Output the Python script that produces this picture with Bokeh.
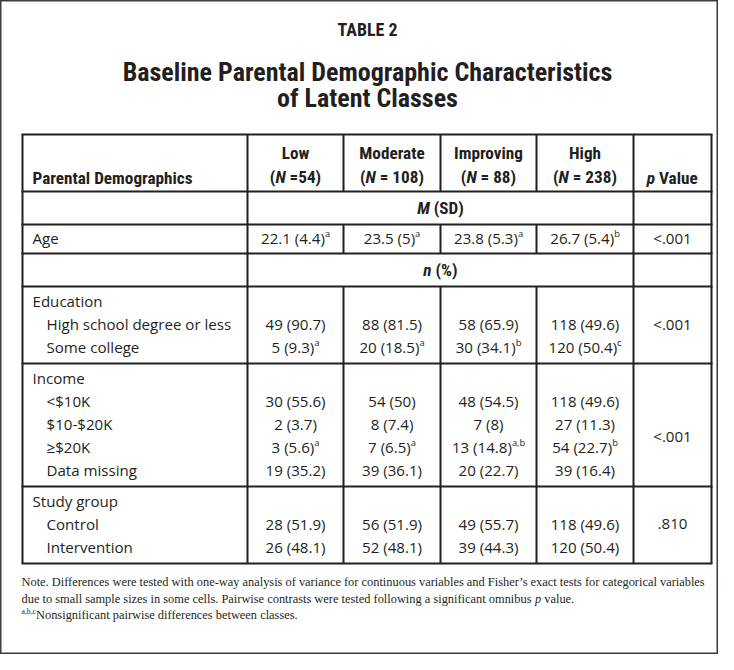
import os
import glob
import struct
from bokeh.plotting import figure
from bokeh.models import Range1d, ColumnDataSource
from bokeh.embed import file_html
from bokeh.resources import INLINE

# ---------------- data ----------------
table_label = "TABLE 2"
title_lines = ["Baseline Parental Demographic Characteristics", "of Latent Classes"]
row_header = "Parental Demographics"
classes = ["Low", "Moderate", "Improving", "High"]
class_n_labels = [" =54)", " = 108)", " = 88)", " = 238)"]
pvalue_header = " Value"

age_label = "Age"
age_mean = [22.1, 23.5, 23.8, 26.7]
age_sd = [4.4, 5, 5.3, 5.4]
age_sup = ["a", "a", "a", "b"]
age_p = "<.001"

edu_title = "Education"
edu_labels = ["High school degree or less", "Some college"]
edu_n = [[49, 88, 58, 118], [5, 20, 30, 120]]
edu_pct = [[90.7, 81.5, 65.9, 49.6], [9.3, 18.5, 34.1, 50.4]]
edu_sup = [["", "", "", ""], ["a", "a", "b", "c"]]
edu_p = "<.001"

inc_title = "Income"
inc_labels = ["<$10K", "$10-$20K", "\u2265$20K", "Data missing"]
inc_n = [[30, 54, 48, 118], [2, 8, 7, 27], [3, 7, 13, 54], [19, 39, 20, 39]]
inc_pct = [[55.6, 50, 54.5, 49.6], [3.7, 7.4, 8, 11.3], [5.6, 6.5, 14.8, 22.7], [35.2, 36.1, 22.7, 16.4]]
inc_sup = [["", "", "", ""], ["", "", "", ""], ["a", "a", "a,b", "b"], ["", "", "", ""]]
inc_p = "<.001"

grp_title = "Study group"
grp_labels = ["Control", "Intervention"]
grp_n = [[28, 56, 49, 118], [26, 52, 39, 120]]
grp_pct = [[51.9, 51.9, 55.7, 49.6], [48.1, 48.1, 44.3, 50.4]]
grp_sup = [["", "", "", ""], ["", "", "", ""]]
grp_p = ".810"

note_line1 = ("Note. Differences were tested with one-way analysis of variance for continuous variables "
              "and Fisher\u2019s exact tests for categorical variables")
note_line2a = "due to small sample sizes in some cells. Pairwise contrasts were tested following a significant omnibus "
note_line2b = "p"
note_line2c = " value."
note_sup = "a,b,c"
note_line3 = "Nonsignificant pairwise differences between classes."

# ---------------- font metrics (for laying out mixed-style runs) ----------------
ROOTS = ["/usr/share/fonts", "/usr/local/share/fonts",
         os.path.expanduser("~/.fonts"), os.path.expanduser("~/.local/share/fonts")]


def find_font(patterns):
    for pat in patterns:
        for r in ROOTS:
            hits = sorted(glob.glob(os.path.join(r, "**", pat), recursive=True))
            if hits:
                return hits[0]
    return None


class Metrics:
    def __init__(self, path, fallback_em=0.5):
        self.ok = False
        self.fallback_em = fallback_em
        self.path = path
        if not path:
            return
        try:
            data = open(path, "rb").read()
            base = 0
            if data[:4] == b"ttcf":
                base = struct.unpack(">I", data[12:16])[0]
            num = struct.unpack(">H", data[base + 4:base + 6])[0]
            tables = {}
            for i in range(num):
                tag, cs, off, ln = struct.unpack(">4sIII", data[base + 12 + 16 * i: base + 28 + 16 * i])
                tables[tag] = off
            head = tables[b"head"]
            self.upem = struct.unpack(">H", data[head + 18:head + 20])[0]
            hhea = tables[b"hhea"]
            nh = struct.unpack(">H", data[hhea + 34:hhea + 36])[0]
            hm = tables[b"hmtx"]
            self.adv = [struct.unpack(">H", data[hm + 4 * i:hm + 4 * i + 2])[0] for i in range(nh)]
            cmap = tables[b"cmap"]
            n = struct.unpack(">H", data[cmap + 2:cmap + 4])[0]
            sub4 = None
            for i in range(n):
                pid, eid, off = struct.unpack(">HHI", data[cmap + 4 + 8 * i: cmap + 12 + 8 * i])
                fmt = struct.unpack(">H", data[cmap + off:cmap + off + 2])[0]
                if fmt == 4 and pid in (0, 3):
                    sub4 = cmap + off
                    break
            o = sub4
            segx2 = struct.unpack(">H", data[o + 6:o + 8])[0]
            seg = segx2 // 2
            self.ends = struct.unpack(">%dH" % seg, data[o + 14:o + 14 + segx2])
            self.starts = struct.unpack(">%dH" % seg, data[o + 16 + segx2:o + 16 + 2 * segx2])
            self.deltas = struct.unpack(">%dh" % seg, data[o + 16 + 2 * segx2:o + 16 + 3 * segx2])
            self.ro_pos = o + 16 + 3 * segx2
            self.ros = struct.unpack(">%dH" % seg, data[self.ro_pos:self.ro_pos + segx2])
            self.data = data
            self.ok = True
        except Exception:
            self.ok = False

    def gid(self, ch):
        c = ord(ch)
        for i in range(len(self.ends)):
            if c <= self.ends[i]:
                if c < self.starts[i]:
                    return 0
                if self.ros[i] == 0:
                    return (c + self.deltas[i]) & 0xFFFF
                addr = self.ro_pos + 2 * i + self.ros[i] + 2 * (c - self.starts[i])
                g = struct.unpack(">H", self.data[addr:addr + 2])[0]
                return (g + self.deltas[i]) & 0xFFFF if g else 0
        return 0

    def width(self, s, size):
        if not self.ok:
            return len(s) * self.fallback_em * size
        tot = 0
        for ch in s:
            g = self.gid(ch)
            tot += self.adv[g] if g < len(self.adv) else self.adv[-1]
        return tot * size / self.upem


# condensed bold family for headings, first one available
CANDIDATES = [
    ("Roboto Condensed", ["RobotoCondensed-Bold.ttf"], ["RobotoCondensed-BoldItalic.ttf"]),
    ("Liberation Sans Narrow", ["LiberationSansNarrow-Bold.ttf"], ["LiberationSansNarrow-BoldItalic.ttf"]),
    ("DejaVu Sans Condensed", ["DejaVuSansCondensed-Bold.ttf"], ["DejaVuSansCondensed-BoldOblique.ttf"]),
]
NARROW, narrow_bold_path, narrow_bi_path = "DejaVu Sans Condensed", None, None
for fam, pb, pbi in CANDIDATES:
    fb = find_font(pb)
    if fb:
        NARROW, narrow_bold_path, narrow_bi_path = fam, fb, find_font(pbi) or fb
        break

BODY = "Open Sans"
body_path = find_font(["OpenSans-Regular.ttf", "OpenSans*wght*.ttf", "OpenSans*.ttf"])
SERIF = "Liberation Serif"
serif_path = find_font(["LiberationSerif-Regular.ttf"])
serif_it_path = find_font(["LiberationSerif-Italic.ttf"])

MET = {
    (NARROW, "bold"): Metrics(narrow_bold_path, 0.5),
    (NARROW, "bold italic"): Metrics(narrow_bi_path, 0.5),
    (BODY, "normal"): Metrics(body_path, 0.55),
    (SERIF, "normal"): Metrics(serif_path, 0.45),
    (SERIF, "italic"): Metrics(serif_it_path, 0.45),
}


def W(fam, style, s, size):
    return MET[(fam, style)].width(s, size)


def fit(fam, style, s, target, lo, hi):
    w1 = W(fam, style, s, 1.0)
    v = target / w1 if w1 > 0 else (lo + hi) / 2
    return round(max(lo, min(hi, v)), 1)


# ---------------- layout constants ----------------
INK = "#231f20"
X_EDGES = [22, 247, 343, 440, 536, 633, 711]
Y_TOP, Y_HEAD, Y_MSD, Y_AGE, Y_NPCT = 134, 191, 224, 253, 286
FIRST, STEP, LAST = 16, 23, 15
LABEL_X, SUB_X = 32, 46
NOTE_X = 21
MID = {BODY: -1.3, NARROW: 0.3, SERIF: -0.5}

size_title = fit(NARROW, "bold", title_lines[0], 520, 18, 26)
size_tab = fit(NARROW, "bold", table_label, 61, 11, 18)
size_head = fit(NARROW, "bold", row_header, 161, 12, 19)
size_body = fit(BODY, "normal", edu_labels[0], 185, 12, 17)
size_sup = round(size_body * 0.62, 1)
size_note = fit(SERIF, "normal", note_line1, 685, 10, 13)
size_nsup = round(size_note * 0.62, 1)

cols = dict(x=[], y=[], text=[], font=[], size=[], style=[], align=[])


def put(x, y, t, fam, size, style="normal", align="left"):
    cols["x"].append(x)
    cols["y"].append(y + MID.get(fam, 0))
    cols["text"].append(t)
    cols["font"].append(fam)
    cols["size"].append("%.1fpx" % size)
    cols["style"].append(style)
    cols["align"].append(align)


def run(x, y, parts, align="left"):
    """parts: list of (text, fam, size, style, dy); laid out side by side."""
    ws = [W(f, st, t, sz) for (t, f, sz, st, dy) in parts]
    start = x - sum(ws) / 2.0 if align == "center" else x
    t, f, sz, st, dy = parts[0]
    if align == "center":
        put(start + ws[0], y + dy, t.rstrip(" "), f, sz, st, "right")
    else:
        put(start, y + dy, t, f, sz, st, "left")
    cur = start + ws[0]
    for (t, f, sz, st, dy), w in zip(parts[1:], ws[1:]):
        lead = len(t) - len(t.lstrip(" "))
        put(cur + W(f, st, " " * lead, sz), y + dy, t.lstrip(" "), f, sz, st, "left")
        cur += w


def cell(cx, y, main, sup):
    if sup:
        run(cx, y, [(main, BODY, size_body, "normal", 0),
                    (sup, BODY, size_sup, "normal", -4.5)], "center")
    else:
        put(cx, y, main, BODY, size_body, "normal", "center")


col_cx = [(X_EDGES[i] + X_EDGES[i + 1]) / 2.0 for i in range(len(X_EDGES) - 1)]
class_cx = col_cx[1:5]
p_cx = col_cx[5]

# titles
put(367, 29, table_label, NARROW, size_tab, "bold", "center")
put(367, 71, title_lines[0], NARROW, size_title, "bold", "center")
put(367, 97, title_lines[1], NARROW, size_title, "bold", "center")

# header
put(LABEL_X, 177, row_header, NARROW, size_head, "bold", "left")
for cx, name, nl in zip(class_cx, classes, class_n_labels):
    put(cx, 152, name, NARROW, size_head, "bold", "center")
    run(cx, 176.5, [("(", NARROW, size_head, "bold", 0),
                    ("N", NARROW, size_head, "bold italic", 0),
                    (nl, NARROW, size_head, "bold", 0)], "center")
run(p_cx, 177, [("p", NARROW, size_head, "bold italic", 0),
                (pvalue_header, NARROW, size_head, "bold", 0)], "center")

span_cx = (X_EDGES[1] + X_EDGES[5]) / 2.0
run(span_cx, (Y_HEAD + Y_MSD) / 2.0, [("M", NARROW, size_head, "bold italic", 0),
                                      (" (SD)", NARROW, size_head, "bold", 0)], "center")
run(span_cx, (Y_AGE + Y_NPCT) / 2.0, [("n", NARROW, size_head, "bold italic", 0),
                                      (" (%)", NARROW, size_head, "bold", 0)], "center")

# age row
y_age = (Y_MSD + Y_AGE) / 2.0 + 0.5
put(LABEL_X, y_age, age_label, BODY, size_body)
for cx, m, s, sp in zip(class_cx, age_mean, age_sd, age_sup):
    cell(cx, y_age, "%g (%g)" % (m, s), sp)
put(p_cx, y_age, age_p, BODY, size_body, "normal", "center")

# categorical blocks
blocks = [
    (edu_title, edu_labels, edu_n, edu_pct, edu_sup, edu_p, 1.0),
    (inc_title, inc_labels, inc_n, inc_pct, inc_sup, inc_p, 2.5),
    (grp_title, grp_labels, grp_n, grp_pct, grp_sup, grp_p, 1.0),
]
h_lines = [Y_TOP, Y_HEAD, Y_MSD, Y_AGE, Y_NPCT]
y0 = Y_NPCT
for title, labels, ns, pcts, sups, pv, ppos in blocks:
    yt = y0 + FIRST
    put(LABEL_X, yt, title, BODY, size_body)
    for k, lab in enumerate(labels):
        yy = yt + STEP * (k + 1)
        put(SUB_X, yy, lab, BODY, size_body)
        for cx, n, pc, sp in zip(class_cx, ns[k], pcts[k], sups[k]):
            cell(cx, yy, "%d (%g)" % (n, pc), sp)
    put(p_cx, yt + STEP * ppos, pv, BODY, size_body, "normal", "center")
    y1 = yt + STEP * len(labels) + LAST
    h_lines.append(y1)
    y0 = y1
Y_BOT = y0

# notes
put(NOTE_X, 582, note_line1, SERIF, size_note)
run(NOTE_X, 598.5, [(note_line2a, SERIF, size_note, "normal", 0),
                    (note_line2b, SERIF, size_note, "italic", 0),
                    (note_line2c, SERIF, size_note, "normal", 0)], "left")
run(NOTE_X, 615, [(note_sup, SERIF, size_nsup, "normal", -3.5),
                  (note_line3, SERIF, size_note, "normal", 0)], "left")

# grid lines
sx0, sy0, sx1, sy1 = [], [], [], []
for yy in h_lines:
    sx0.append(X_EDGES[0] - 1); sx1.append(X_EDGES[-1] + 1); sy0.append(yy); sy1.append(yy)
for i, xx in enumerate(X_EDGES):
    if i in (0, 1, 5, 6):
        sx0.append(xx); sx1.append(xx); sy0.append(Y_TOP); sy1.append(Y_BOT)
    else:
        for a, b in [(Y_TOP, Y_HEAD), (Y_MSD, Y_AGE), (Y_NPCT, Y_BOT)]:
            sx0.append(xx); sx1.append(xx); sy0.append(a); sy1.append(b)

p = figure(width=718, height=654, x_range=Range1d(0, 718), y_range=Range1d(654, 0),
           output_backend="svg", toolbar_location=None, min_border=0,
           x_axis_type=None, y_axis_type=None)
p.grid.visible = False
p.background_fill_color = "white"
p.border_fill_color = "white"
p.outline_line_color = "#3c3c3c"
p.outline_line_width = 2

p.segment(x0=sx0, y0=sy0, x1=sx1, y1=sy1, line_color=INK, line_width=2)

src = ColumnDataSource(cols)
p.text(x="x", y="y", text="text", text_font="font", text_font_size="size",
       text_font_style="style", text_align="align", text_baseline="middle",
       text_color=INK, source=src)

open("out.html", "w").write(file_html(p, INLINE))
